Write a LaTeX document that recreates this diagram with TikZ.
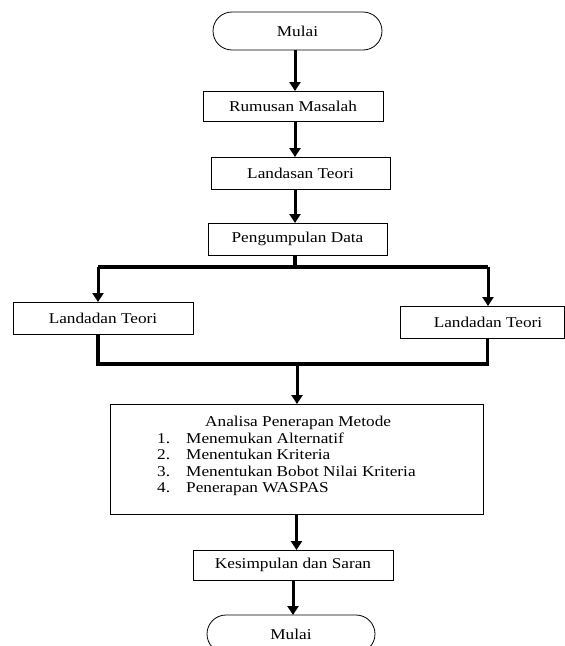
\documentclass[tikz,border=0pt]{standalone}
\usepackage{fontspec}
\setmainfont{Liberation Serif}[FakeStretch=1.15]
\usetikzlibrary{positioning}
\usetikzlibrary{shapes,arrows.meta}

\begin{document}
\begin{tikzpicture}[x=1pt,y=-1pt,
                    every node/.style={font=\fontsize{15}{16.5}\selectfont},
                    startstop/.style={rounded rectangle,
                                        inner sep=0pt,outer sep=0,
                                        draw=black,line width=0.8pt,
                                        minimum width=169pt,
                                        minimum height=38pt
                                      },
                    process/.style={rectangle,
                                        inner sep=0pt,outer sep=0,
                                        draw=black,line width=0.8pt,
                                        minimum height=31pt
                                      },
                    flowconnection/.style={
                                    line width=3pt,
                                    -{Triangle[length=9pt,width=11pt]}
                                    },
                    branchline/.style={
                                    line width=3.5pt
                                    }
                     ]
\useasboundingbox (0,0) rectangle (565,646);
% main column
\node[startstop] (mulai) at (297.5,31) {Mulai};
\node[process,minimum width=180pt,minimum height=30pt] (rumusan) at (293,106) {Rumusan Masalah};
\node[process,minimum width=179pt,minimum height=32pt] (landasan) at (300.5,173) {Landasan Teori};
\node[process,minimum width=179pt,minimum height=32pt] (pengumpulan) at (297.5,239) {Pengumpulan Data};
% two branches
\node[process,minimum width=180pt,minimum height=32pt] (kiri) at (103,318) {Landadan Teori};
\node[process,minimum width=164pt,minimum height=32pt] (kanan) at (482,322) {\hspace{12pt}Landadan Teori};
\node[process,minimum width=373pt,minimum height=110pt] (analisa) at (296.5,459) {};
\node[anchor=north west,inner sep=0pt,align=left] (analisateks) at (157,416)
  {\hspace{48pt}Analisa Penerapan Metode\\
   \makebox[29pt][l]{1.}Menemukan Alternatif\\
   \makebox[29pt][l]{2.}Menentukan Kriteria\\
   \makebox[29pt][l]{3.}Menentukan Bobot Nilai Kriteria\\
   \makebox[29pt][l]{4.}Penerapan WASPAS};
\node[process,minimum width=200pt,minimum height=30pt] (kesimpulan) at (293,565) {Kesimpulan dan Saran};
\node[startstop,minimum width=168pt] (selesai) at (291,634) {Mulai};

\coordinate (cabangatas) at (295,267);
\coordinate (cabangkiri) at (98,267);
\coordinate (cabangkanan) at (488,267);
\coordinate (gabung) at (297,364);
\coordinate (gabungkanan) at (487.5,364);

\draw[flowconnection] (mulai.south -| cabangatas) -- (cabangatas |- rumusan.north);
\draw[flowconnection] (cabangatas |- rumusan.south) -- (cabangatas |- landasan.north);
\draw[flowconnection] (cabangatas |- landasan.south) -- (cabangatas |- pengumpulan.north);
\draw[branchline] (cabangatas |- pengumpulan.south) -- (cabangatas);
\draw[branchline] (cabangkiri) -- (cabangkanan);
\draw[flowconnection] (cabangkiri) -- (cabangkiri |- kiri.north);
\draw[flowconnection] (cabangkanan) -- (cabangkanan |- kanan.north);
\draw[branchline] (cabangkiri |- kiri.south) |- (gabungkanan) -- (gabungkanan |- kanan.south);
\draw[flowconnection] (gabung) -- (gabung |- analisa.north);
\draw[flowconnection] (analisa.south) -- (analisa.south |- kesimpulan.north);
\draw[flowconnection] (kesimpulan.south) -- (kesimpulan.south |- selesai.north);
\end{tikzpicture}
\end{document}
